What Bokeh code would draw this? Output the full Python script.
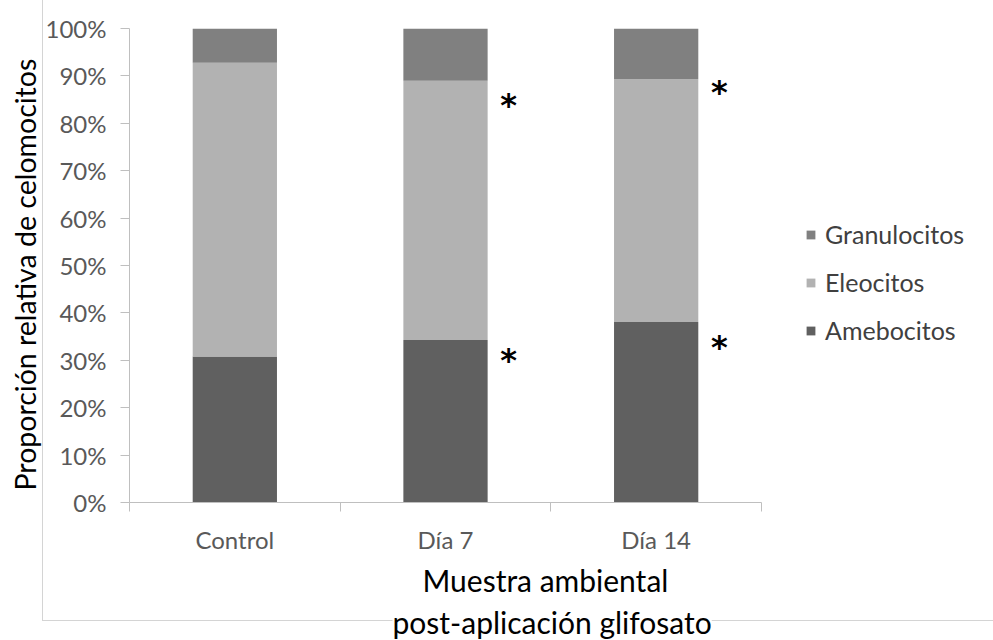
from bokeh.plotting import figure
from bokeh.models import (Range1d, FixedTicker, Legend, LegendItem, ColumnDataSource, Title)
from bokeh.transform import dodge
from bokeh.core.properties import value
from bokeh.embed import file_html
from bokeh.resources import INLINE

# ---------------- data ----------------
categories = ["Control", "Día 7", "Día 14"]
amebocitos = [30.8, 34.3, 38.1]
eleocitos = [62.0, 54.7, 51.2]
granulocitos = [7.2, 11.0, 10.7]
series_names = ["Amebocitos", "Eleocitos", "Granulocitos"]
series_colors = ["#606060", "#b2b2b2", "#808080"]
y_ticks = [0, 10, 20, 30, 40, 50, 60, 70, 80, 90, 100]
sig_categories = ["Día 7", "Día 7", "Día 14", "Día 14"]
sig_y = [31.0, 84.8, 33.7, 87.4]
y_title = "Proporción relativa de celomocitos"
x_title_lines = ["Muestra ambiental", "post-aplicación glifosato"]

FONT = "Lato"
W, H = 993, 640
LEFT, TOP, BOTTOM = 129, 28, 137
AXIS_PX = 632                     # pixel length of the category axis
FRAME_PX = W - LEFT               # frame extends right to hold the legend

n = len(categories)
centers = [i + 0.5 for i in range(n)]
bounds = list(range(n + 1))

src = ColumnDataSource(dict(x=centers, Amebocitos=amebocitos,
                            Eleocitos=eleocitos, Granulocitos=granulocitos))

p = figure(width=W, height=H, x_range=Range1d(0, n * FRAME_PX / AXIS_PX),
           y_range=Range1d(0, 100), output_backend="svg", toolbar_location=None,
           min_border_left=LEFT, min_border_right=0,
           min_border_top=TOP, min_border_bottom=BOTTOM)
p.outline_line_color = None
p.xgrid.visible = False
p.ygrid.visible = False
p.border_fill_color = None
p.background_fill_color = None
p.styles = {
    "background-image": "linear-gradient(#d4d4d4, #d4d4d4), linear-gradient(#d4d4d4, #d4d4d4)",
    "background-size": "1px 620px, 960px 1px",
    "background-position": "42px 0px, 42px 620px",
    "background-repeat": "no-repeat",
}

renderers = p.vbar_stack(series_names, x="x", width=0.4, source=src,
                         color=series_colors, line_color=None)

# y axis
ya = p.yaxis[0]
ya.ticker = FixedTicker(ticks=y_ticks)
ya.major_label_overrides = {t: f"{t}%" for t in y_ticks}
ya.minor_tick_line_color = None
ya.axis_line_color = "#bfbfbf"
ya.major_tick_line_color = "#bfbfbf"
ya.major_tick_out = 9
ya.major_tick_in = 0
ya.major_label_standoff = 14
ya.major_label_text_font = FONT
ya.major_label_text_font_size = "24px"
ya.major_label_text_color = "#595959"

# x axis: labels at category centres, tick marks at boundaries
xa = p.xaxis[0]
xa.bounds = (0, n)
xa.ticker = FixedTicker(ticks=centers, minor_ticks=bounds)
xa.major_label_overrides = {c: cat for c, cat in zip(centers, categories)}
xa.axis_line_color = "#bfbfbf"
xa.major_tick_line_color = None
xa.major_tick_out = 0
xa.major_tick_in = 0
xa.minor_tick_line_color = "#bfbfbf"
xa.minor_tick_out = 9
xa.minor_tick_in = 0
xa.major_label_standoff = 13
xa.major_label_text_font = FONT
xa.major_label_text_font_size = "24px"
xa.major_label_text_color = "#595959"

# significance asterisks
sig_x = [centers[categories.index(c)] for c in sig_categories]
sig_src = ColumnDataSource(dict(x=sig_x, y=sig_y, t=["*"] * len(sig_y)))
p.text(x=dodge("x", 0.3), y="y", text="t", source=sig_src,
       text_font=value("DejaVu Sans"), text_font_size="32px", text_font_style="bold",
       text_align="center", text_baseline="middle", text_color="#000000", y_offset=4)

# titles
yt = Title(text=y_title, align="left", offset=12, vertical_align="middle", standoff=0,
           text_font=FONT, text_font_size="28.5px", text_font_style="normal",
           text_color="#000000")
p.add_layout(yt, "left")
xt1 = Title(text=x_title_lines[0], align="left", offset=293, vertical_align="middle",
            standoff=8, text_font=FONT, text_font_size="30px",
            text_font_style="normal", text_color="#000000")
p.add_layout(xt1, "below")
xt2 = Title(text=x_title_lines[1], align="left", offset=263, vertical_align="middle",
            standoff=0, text_font=FONT, text_font_size="30px",
            text_font_style="normal", text_color="#000000",
            background_fill_color="#ffffff")
p.add_layout(xt2, "below")

# legend (inside the widened frame, right of the category axis)
items = [LegendItem(label=nm, renderers=[r]) for nm, r in zip(series_names, renderers)][::-1]
legend = Legend(items=items, location=(676, 157), padding=0, margin=0,
                glyph_width=11, glyph_height=11, label_standoff=9, spacing=18,
                label_height=25, label_text_font=FONT, label_text_font_size="25px",
                label_text_color="#404040", border_line_color=None,
                background_fill_alpha=0)
p.add_layout(legend, "center")

open("out.html", "w").write(file_html(p, INLINE))
